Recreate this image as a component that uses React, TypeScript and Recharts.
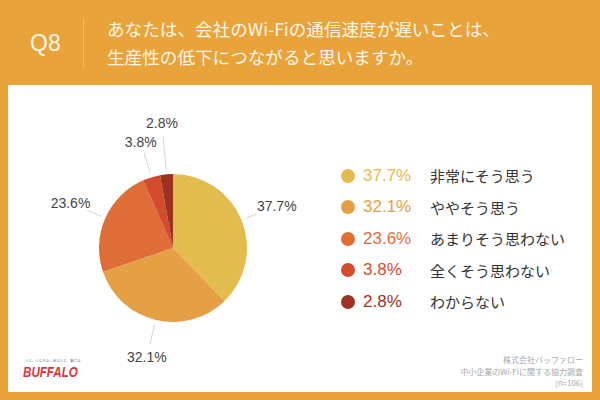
import { PieChart, Pie, Cell, Legend } from 'recharts';

const FONT = '"Noto Sans CJK JP", "Noto Sans", sans-serif';
const NUM_FONT = '"Liberation Sans", sans-serif';

const categories = ['非常にそう思う', 'ややそう思う', 'あまりそう思わない', '全くそう思わない', 'わからない'];
const values = [37.7, 32.1, 23.6, 3.8, 2.8];
const COLORS = ['#E3BC50', '#E5A046', '#DF6D38', '#D24C2D', '#9C3320'];
const lineStart = [79, 79, 79, 79, 77];
const lineEnd = [90, 99, 94, 100, 112];
const labelDist = [112, 112, 112, 111, 125];
const sourceLines = ['株式会社バッファロー', '中小企業のWi-Fiに関する協力調査', '(n=106)'];

const data = categories.map((name, i) => ({ name, value: values[i] }));

const RAD = Math.PI / 180;

const renderLabel = ({ cx, cy, midAngle, index }: any) => {
  const dx = Math.cos(-midAngle * RAD);
  const dy = Math.sin(-midAngle * RAD);
  return (
    <g>
      <line
        x1={cx + lineStart[index] * dx}
        y1={cy + lineStart[index] * dy}
        x2={cx + lineEnd[index] * dx}
        y2={cy + lineEnd[index] * dy}
        stroke="#c9c9c9"
        strokeWidth={0.8}
      />
      <text
        x={cx + labelDist[index] * dx}
        y={cy + labelDist[index] * dy}
        textAnchor="middle"
        dominantBaseline="central"
        fontSize={14}
        fontFamily={NUM_FONT}
        fill="#444"
      >
        {values[index].toFixed(1)}%
      </text>
    </g>
  );
};

const LegendRows = () => (
  <div style={{ fontFamily: FONT }}>
    {data.map((d, i) => (
      <div key={d.name} style={{ display: 'flex', alignItems: 'center', height: 31.5 }}>
        <span style={{ width: 14, height: 14, borderRadius: 7, background: COLORS[i], marginRight: 8 }} />
        <span style={{ width: 67, fontFamily: NUM_FONT, fontSize: 17, color: COLORS[i] }}>{d.value.toFixed(1)}%</span>
        <span style={{ fontSize: 15, color: '#333' }}>{d.name}</span>
      </div>
    ))}
  </div>
);

export default function App() {
  return (
    <div style={{ position: 'absolute', left: 0, top: 0, width: 600, height: 400, background: '#E8A33A', overflow: 'hidden', fontFamily: FONT }}>
      <div style={{ position: 'absolute', left: 30, top: 30, fontFamily: NUM_FONT, fontSize: 23, color: '#FFF6E6' }}>Q8</div>
      <div style={{ position: 'absolute', left: 83, top: 18, width: 1, height: 50, background: '#F0BC6C' }} />
      <div style={{ position: 'absolute', left: 107, top: 15, fontSize: 17.6, lineHeight: '28px', color: '#FFF6E6', whiteSpace: 'nowrap' }}>
        あなたは、会社のWi-Fiの通信速度が遅いことは、
        <br />
        生産性の低下につながると思いますか。
      </div>
      <div style={{ position: 'absolute', left: 8, top: 85, width: 584, height: 307, background: '#FFFFFF' }} />
      <div style={{ position: 'absolute', left: 0, top: 0 }}>
        <PieChart width={600} height={400} margin={{ top: 0, right: 0, bottom: 0, left: 0 }}>
          <Pie
            data={data}
            dataKey="value"
            nameKey="name"
            cx={173}
            cy={248}
            outerRadius={74}
            startAngle={90}
            endAngle={-270}
            stroke="none"
            label={renderLabel}
            labelLine={false}
            isAnimationActive={false}
          >
            {data.map((d, i) => (
              <Cell key={d.name} fill={COLORS[i]} />
            ))}
          </Pie>
          <Legend content={<LegendRows />} wrapperStyle={{ left: 341, top: 160, width: 250, bottom: 'auto' }} />
        </PieChart>
      </div>
      <div style={{ position: 'absolute', left: 25, top: 359, fontSize: 3.5, lineHeight: '4px', color: '#777', whiteSpace: 'nowrap' }}>人と、つながる。あなたと、繋げる</div>
      <div style={{ position: 'absolute', left: 23, top: 365, fontFamily: NUM_FONT, fontSize: 14.5, lineHeight: '15px', fontWeight: 700, fontStyle: 'italic', color: '#D9363A', transform: 'scaleX(0.8)', transformOrigin: 'left top' }}>BUFFALO</div>
      <div style={{ position: 'absolute', right: 17, top: 354, textAlign: 'right', fontSize: 8, lineHeight: '11.5px', color: '#a9a9a9', whiteSpace: 'nowrap' }}>
        {sourceLines.map(s => (
          <div key={s}>{s}</div>
        ))}
      </div>
    </div>
  );
}
